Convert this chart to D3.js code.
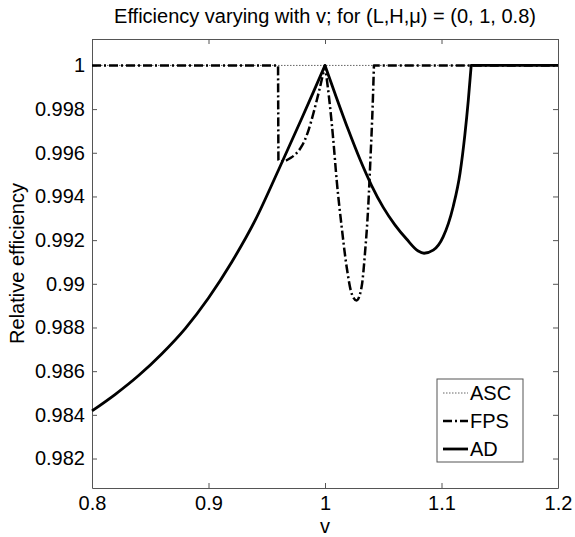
<!DOCTYPE html>
<html>
<head>
<meta charset="utf-8">
<script src="https://cdn.jsdelivr.net/npm/d3@7"></script>
<style>
  body { margin: 0; background: #fff; }
  text { font-family: "Liberation Sans", Arial, sans-serif; fill: #000; }
</style>
</head>
<body>
<div id="chart"></div>
<script>
// Data
var vASC = [0.8, 1.2];
var effASC = [1, 1];

var vFPS = [0.8, 0.9597, 0.96, 0.9611, 0.965, 0.97, 0.975, 0.98, 0.985, 0.99, 0.995, 1.0,
  1.0043, 1.0071, 1.01, 1.0143, 1.0186, 1.0229, 1.0271, 1.0314, 1.0343, 1.0371, 1.0391, 1.0409, 1.042, 1.2];
var effFPS = [1, 1, 0.99568, 0.9956, 0.99562, 0.99575, 0.99595, 0.9963, 0.9969, 0.9978, 0.99885, 1.0,
  0.99813, 0.9966, 0.99476, 0.99261, 0.99077, 0.98955, 0.98924, 0.98985, 0.99139, 0.99353, 0.99583, 0.99813, 1.0, 1.0];

var vAD = [0.8, 0.82, 0.84, 0.86, 0.88, 0.9, 0.92, 0.94, 0.96, 0.98, 0.99, 1.0,
  1.01, 1.02, 1.03, 1.04, 1.05, 1.06, 1.07, 1.08, 1.085, 1.0929, 1.1014, 1.11, 1.116, 1.12, 1.123, 1.1255, 1.2];
var effAD = [0.98418, 0.98494, 0.9858, 0.9868, 0.98795, 0.98935, 0.991, 0.9929, 0.9952, 0.99757, 0.99878, 1.0,
  0.9985, 0.99705, 0.9957, 0.9945, 0.9935, 0.9927, 0.99205, 0.9915, 0.9914, 0.99154, 0.99215, 0.99353, 0.9951, 0.9968, 0.9984, 1.0, 1.0];

// sharp corners (index into the arrays above) where the curve must not be smoothed
var breaksFPS = [1, 2, 11, 24];
var breaksAD = [11, 27];

var xTicks = [0.8, 0.9, 1.0, 1.1, 1.2];
var yTicks = [0.982, 0.984, 0.986, 0.988, 0.99, 0.992, 0.994, 0.996, 0.998, 1.0];

// Set up chart
var svgWidth = 575;
var svgHeight = 537;
var chartMargin = { top: 39, right: 17, bottom: 49, left: 92 };
var chartWidth = svgWidth - chartMargin.left - chartMargin.right;
var chartHeight = svgHeight - chartMargin.top - chartMargin.bottom;

var svg = d3.select("#chart")
  .append("svg")
  .attr("width", svgWidth)
  .attr("height", svgHeight);

var chartGroup = svg.append("g")
  .attr("transform", `translate(${chartMargin.left}, ${chartMargin.top})`);

// Scales
var xScale = d3.scaleLinear().domain([0.8, 1.2]).range([0, chartWidth]);
var yScale = d3.scaleLinear().domain([0.98065, 1.00121]).range([chartHeight, 0]);

var fmt = d => String(+d.toFixed(3));
var axisColor = "#555";

// Axes, ticks pointing inward like matlab
var bottomAxis = d3.axisBottom(xScale).tickValues(xTicks).tickSizeInner(-5).tickSizeOuter(0).tickPadding(8).tickFormat(fmt);
var topAxis = d3.axisTop(xScale).tickValues(xTicks).tickSizeInner(-5).tickSizeOuter(0).tickFormat("");
var leftAxis = d3.axisLeft(yScale).tickValues(yTicks).tickSizeInner(-5).tickSizeOuter(0).tickPadding(7).tickFormat(fmt);
var rightAxis = d3.axisRight(yScale).tickValues(yTicks).tickSizeInner(-5).tickSizeOuter(0).tickFormat("");

function styleAxis(g) {
  g.select(".domain").attr("stroke", axisColor).attr("stroke-width", 1);
  g.selectAll(".tick line").attr("stroke", axisColor);
  g.selectAll(".tick text").style("font-size", "20px").attr("fill", "#000")
    .style("font-family", "'Liberation Sans', Arial, sans-serif");
}

chartGroup.append("g").attr("transform", `translate(0, ${chartHeight})`).call(bottomAxis).call(styleAxis);
chartGroup.append("g").call(topAxis).call(styleAxis);
chartGroup.append("g").call(leftAxis).call(styleAxis);
chartGroup.append("g").attr("transform", `translate(${chartWidth}, 0)`).call(rightAxis).call(styleAxis);

// Lines: smooth between corners, keep one subpath so dashes run on
var line = d3.line()
  .x(d => xScale(d[0]))
  .y(d => yScale(d[1]))
  .curve(d3.curveMonotoneX);

function pathWithCorners(pts, breaks) {
  var cuts = [0].concat(breaks, [pts.length - 1]);
  var d = "";
  for (var i = 0; i < cuts.length - 1; i++) {
    var seg = line(pts.slice(cuts[i], cuts[i + 1] + 1));
    d += i === 0 ? seg : seg.replace(/^M/, "L");
  }
  return d;
}

var series = [
  { name: "ASC", pts: d3.zip(vASC, effASC), breaks: [], width: 1, dash: "1.5,1.5", color: "#666" },
  { name: "FPS", pts: d3.zip(vFPS, effFPS), breaks: breaksFPS, width: 2.5, dash: "9,3,2,3", color: "#000" },
  { name: "AD", pts: d3.zip(vAD, effAD), breaks: breaksAD, width: 2.8, dash: null, color: "#000" }
];

chartGroup.selectAll(".series")
  .data(series)
  .enter()
  .append("path")
  .attr("class", "series")
  .attr("d", d => pathWithCorners(d.pts, d.breaks))
  .attr("fill", "none")
  .attr("stroke", d => d.color)
  .attr("stroke-width", d => d.width)
  .attr("stroke-linejoin", "round")
  .attr("stroke-dasharray", d => d.dash);

// Legend
var legend = chartGroup.append("g")
  .attr("transform", `translate(${345}, ${340})`);

legend.append("rect")
  .attr("width", 86)
  .attr("height", 83)
  .attr("fill", "#fff")
  .attr("stroke", axisColor);

legend.selectAll(".entry")
  .data(series)
  .enter()
  .append("g")
  .attr("class", "entry")
  .attr("transform", (d, i) => `translate(0, ${14 + i * 28})`)
  .each(function(d) {
    var g = d3.select(this);
    g.append("line")
      .attr("x1", 6).attr("x2", 31)
      .attr("stroke", d.color)
      .attr("stroke-width", d.width)
      .attr("stroke-dasharray", d.dash);
    g.append("text")
      .attr("x", 33).attr("y", 7)
      .style("font-size", "20px")
      .text(d.name);
  });

// Title and axis labels
svg.append("text")
  .attr("x", chartMargin.left + chartWidth / 2)
  .attr("y", 23)
  .attr("text-anchor", "middle")
  .style("font-size", "20px")
  .text("Efficiency varying with v; for (L,H,μ) = (0, 1, 0.8)");

svg.append("text")
  .attr("x", chartMargin.left + chartWidth / 2)
  .attr("y", 533)
  .attr("text-anchor", "middle")
  .style("font-size", "20px")
  .text("v");

svg.append("text")
  .attr("transform", `translate(24, ${chartMargin.top + chartHeight / 2}) rotate(-90)`)
  .attr("text-anchor", "middle")
  .style("font-size", "20px")
  .text("Relative efficiency");
</script>
</body>
</html>
